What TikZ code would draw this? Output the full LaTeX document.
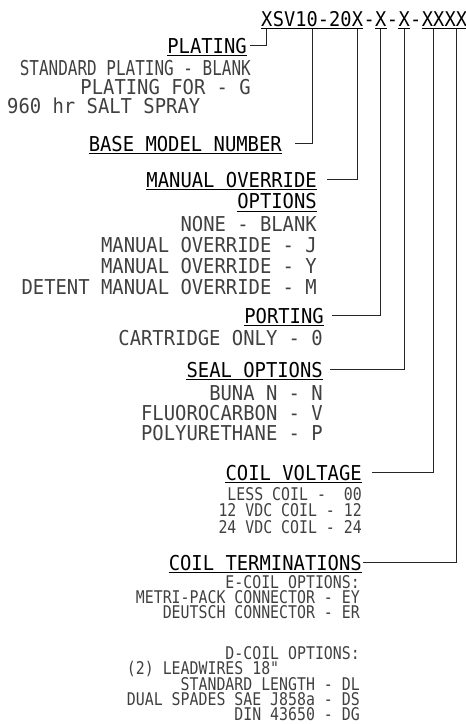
\documentclass[tikz,border=0pt]{standalone}
\usepackage{fontspec}
\usepackage{tikz}
\usetikzlibrary{positioning}
\newfontfamily\cadfont[FakeStretch=0.92]{DejaVu Sans Mono}
\newfontfamily\cadsmall[FakeStretch=0.85]{DejaVu Sans Mono}
\newfontfamily\cadnarrow[FakeStretch=0.78]{DejaVu Sans Mono}

\begin{document}
\begin{tikzpicture}[
    x=1pt, y=-1pt,
    head/.style={font=\cadfont\fontsize{20.5}{20.5}\selectfont,
                 inner sep=0pt, text depth=0pt},
    code/.style={head, font=\cadfont\fontsize{20.3}{20.3}\selectfont,
                 anchor=base west},
    title/.style={head, anchor=base east},
    opts/.style={font=\cadfont\fontsize{20.5}{21}\selectfont,
                 inner sep=0pt, align=right, text=black!75},
    smallopts/.style={opts, font=\cadsmall\fontsize{17.5}{16.5}\selectfont},
    uline/.style={line width=1.3pt},
    link/.style={line width=0.8pt, black!85},
]
\useasboundingbox (0,0) rectangle (466,724);

% Model code
\node[code] (f1) at (261,26) {X};
\foreach \n/\txt [remember=\n as \prev (initially f1)] in
    {f2/SV10-20, f3/X, s1/-, f4/X, s2/-, f5/X, s3/-, f6/XX, f7/XX}
{
    \node[code] (\n) at (\prev.base east) {\txt};
}

% Field titles
\node[title] (plating)   at (247,53)  {PLATING};
\node[title] (basemodel) at (282,151) {BASE MODEL NUMBER};
\node[title] (manual)    at (317,187) {MANUAL OVERRIDE};
\node[head, below left=6pt and 0pt of manual.south east] (options) {OPTIONS};
\node[title] (porting)   at (324,323) {PORTING};
\node[title] (seal)      at (323,377) {SEAL OPTIONS};
\node[title] (voltage)   at (362,480) {COIL VOLTAGE};
\node[title] (term)      at (362,570) {COIL TERMINATIONS};

% Option lists
\node[opts, font=\cadfont\fontsize{20.5}{18.5}\selectfont,
      below left=7pt and -4pt of plating.south east] (platopts)
    {{\cadnarrow STANDARD PLATING - BLANK}\\PLATING FOR - G};
\node[opts, anchor=base west] (salt) at (7,113) {960 hr SALT SPRAY};
\node[opts, below left=7pt and 0pt of options.south east] (manopts)
    {NONE - BLANK\\MANUAL OVERRIDE - J\\MANUAL OVERRIDE - Y\\
     DETENT MANUAL OVERRIDE - M};
\node[opts, below left=7pt and 1pt of porting.south east] (portopts)
    {CARTRIDGE ONLY - 0};
\node[opts, font=\cadfont\fontsize{20.5}{20}\selectfont,
      below left=8pt and 0pt of seal.south east] (sealopts)
    {BUNA N - N\\FLUOROCARBON - V\\POLYURETHANE - P};
\node[smallopts, below left=7pt and 0pt of voltage.south east] (voltopts)
    {LESS COIL -~~00\\12 VDC COIL - 12\\24 VDC COIL - 24};
\node[smallopts, font=\cadsmall\fontsize{17.5}{15.3}\selectfont,
      below left=5pt and 2pt of term.south east] (termopts)
    {E-COIL OPTIONS:\\METRI-PACK CONNECTOR - EY\\DEUTSCH CONNECTOR - ER\\[25.2pt]
     D-COIL OPTIONS:\\(2) LEADWIRES 18"\hphantom{XXXXXXXXX}\\STANDARD LENGTH - DL\\
     DUAL SPADES SAE J858a - DS\\DIN 43650 - DG};

% Underlines
\foreach \n in {f1,f2,f3,f4,f5,f6,f7,plating,basemodel,manual,options,porting,seal,voltage,term}
{
    \draw[uline] ([yshift=-2.5pt]\n.south west) -- ([yshift=-2.5pt]\n.south east);
}

% Leaders from code to titles
\foreach \f/\t/\g in {f1/plating/3, f2/basemodel/13, f3/manual/10, f4/porting/8,
                      f5/seal/7, f6/voltage/10, f7/term/1}
{
    \draw[link] ([yshift=-2.5pt]\f.south) |- ([xshift=\g pt, yshift=7.5pt]\t.south east);
}

\end{tikzpicture}
\end{document}
